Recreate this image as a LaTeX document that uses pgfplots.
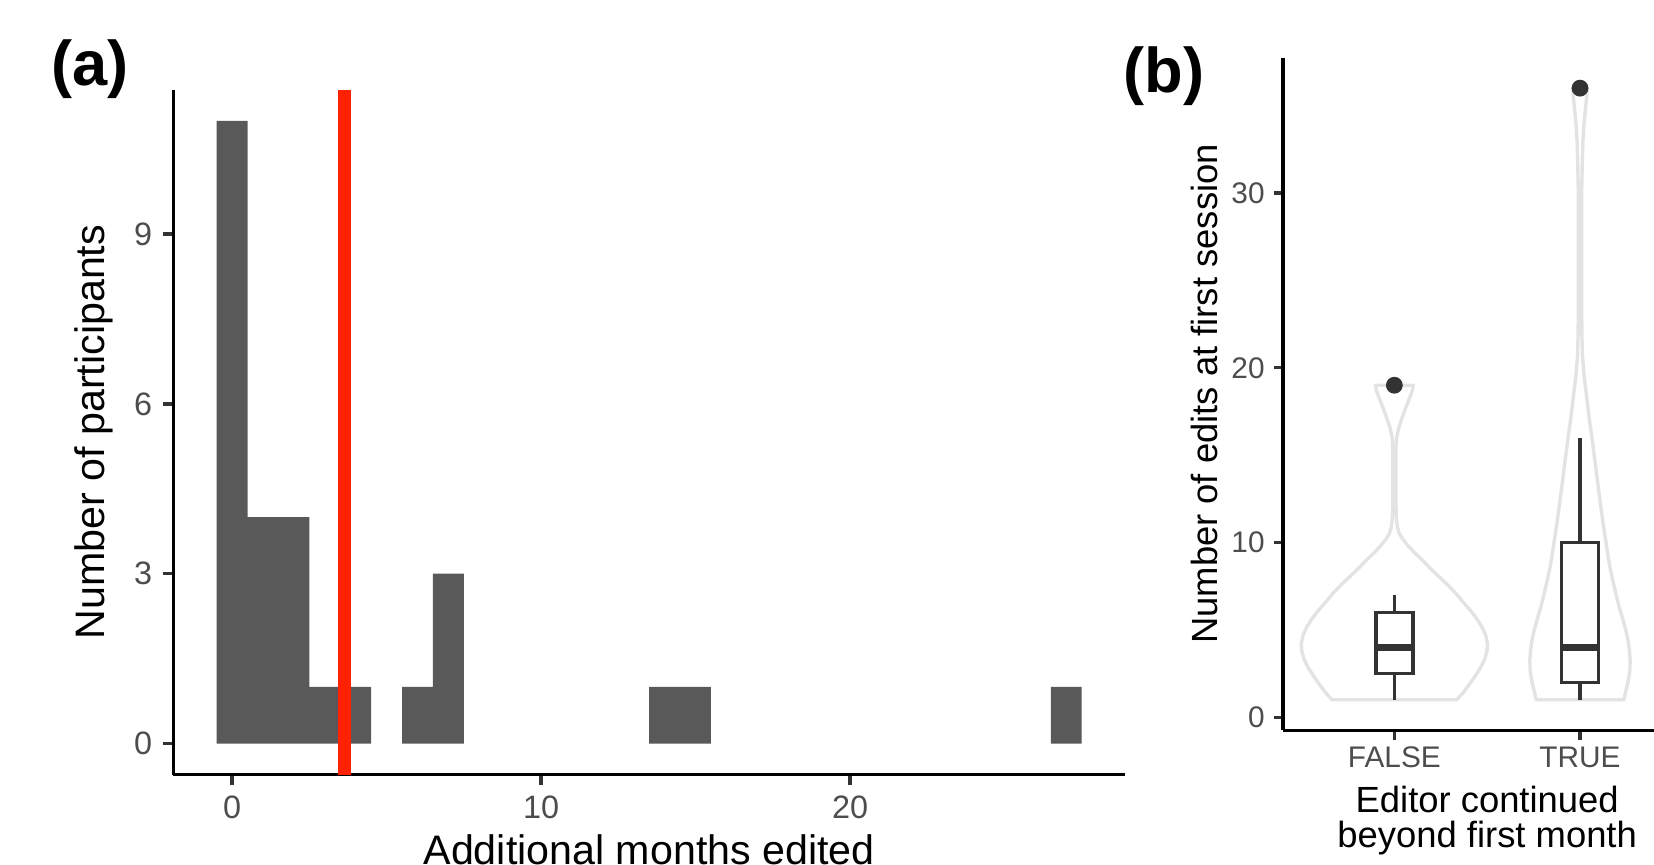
\documentclass[border=0pt]{standalone}
\usepackage{pgfplots}
\pgfplotsset{compat=1.18}
\usepackage{fontspec}
\setmainfont{Liberation Sans}
\definecolor{barc}{HTML}{595959}
\definecolor{redl}{HTML}{FF2200}
\definecolor{violc}{HTML}{E3E3E3}
\definecolor{boxc}{HTML}{333333}
\definecolor{labc}{HTML}{4D4D4D}
\newcommand\tickfa{\fontsize{8.1}{9.5}\selectfont}
\newcommand\tickfb{\fontsize{7.45}{8.7}\selectfont}
\newcommand\labfa{\fontsize{10.3}{12}\selectfont}
\newcommand\labfb{\fontsize{9.1}{8.7}\selectfont}
\pgfplotsset{
  common/.style={
    scale only axis,
    axis x line*=bottom, axis y line*=left,
    axis line style={line width=0.85pt, black},
    tick align=outside,
    major tick length=2.6pt,
    tick style={line width=0.85pt, color=boxc},
    /pgf/number format/assume math mode=true,
  }
}
\begin{document}
\begin{tikzpicture}
\useasboundingbox (0,0) rectangle (413.5pt,216.25pt);
\clip (0,0) rectangle (413.5pt,216.25pt);

% ---------- panel (a) ----------
\begin{axis}[common,
  at={(43.35pt,22.575pt)}, anchor=south west,
  width=237.9pt, height=171.25pt,
  xmin=-1.9, xmax=28.9, ymin=-0.55, ymax=11.55,
  xtick={0,10,20}, ytick={0,3,6,9},
  xticklabel style={font=\tickfa, text=labc, inner sep=0pt, anchor=north, yshift=-2.4pt},
  yticklabel style={font=\tickfa, text=labc, inner sep=0pt, anchor=east, xshift=-2.5pt},
  xlabel={Additional months edited},
  ylabel={Number of participants},
  xlabel style={font=\labfa, at={(axis description cs:0.5,-0.087)}, anchor=north, inner sep=0pt},
  ylabel style={font=\labfa, at={(axis description cs:-0.0729,0.5)}, anchor=base, inner sep=0pt},
]
\addplot[fill=barc, draw=none, const plot] coordinates {(-0.5,11) (0.5,4) (2.5,1) (4.5,1)} \closedcycle;
\addplot[fill=barc, draw=none, const plot] coordinates {(5.5,1) (6.5,3) (7.5,3)} \closedcycle;
\addplot[fill=barc, draw=none, const plot] coordinates {(13.5,1) (15.5,1)} \closedcycle;
\addplot[fill=barc, draw=none, const plot] coordinates {(26.5,1) (27.5,1)} \closedcycle;
\addplot[draw=redl, line width=3.2pt] coordinates {(3.64,-0.55) (3.64,11.55)};
\end{axis}

% ---------- panel (b) ----------
\begin{axis}[common,
  at={(320.75pt,33.65pt)}, anchor=south west,
  width=102.1pt, height=168.2pt,
  xmin=0.4, xmax=2.6, ymin=-0.75, ymax=37.75,
  xtick={1,2}, xticklabels={FALSE,TRUE}, ytick={0,10,20,30},
  major tick length=2.3pt,
  xticklabel style={font=\tickfb, text=labc, inner sep=0pt, anchor=north, yshift=-1.7pt},
  yticklabel style={font=\tickfb, text=labc, inner sep=0pt, anchor=east, xshift=-2.1pt},
  xlabel={Editor continued\\beyond first month},
  xlabel style={font=\labfb, align=center, at={(axis description cs:0.5,-0.0823)}, anchor=north, inner sep=0pt},
  ylabel={Number of edits at first session},
  ylabel style={font=\labfb, at={(axis description cs:-0.161,0.5)}, anchor=base, inner sep=0pt},
]
% violin FALSE
\addplot[draw=violc, line width=0.85pt, line join=round] coordinates {
 (0.664,1.00) (0.630,1.40) (0.595,1.90) (0.568,2.30) (0.538,2.80) (0.514,3.30)
 (0.501,3.80) (0.498,4.20) (0.508,4.70) (0.530,5.20) (0.560,5.70) (0.590,6.10)
 (0.630,6.60) (0.670,7.10) (0.715,7.60) (0.760,8.05) (0.805,8.50) (0.850,9.00)
 (0.890,9.40) (0.925,9.80) (0.955,10.20) (0.973,10.50) (0.984,10.90) (0.990,11.50)
 (0.992,12.50) (0.992,14.50) (0.991,15.50) (0.988,16.00) (0.978,16.50) (0.963,17.00)
 (0.946,17.50) (0.932,17.90) (0.917,18.30) (0.903,18.70) (0.898,19.00)
 (1.102,19.00) (1.097,18.70) (1.083,18.30) (1.068,17.90) (1.054,17.50) (1.037,17.00)
 (1.022,16.50) (1.012,16.00) (1.009,15.50) (1.008,14.50) (1.008,12.50) (1.010,11.50)
 (1.016,10.90) (1.027,10.50) (1.045,10.20) (1.075,9.80) (1.110,9.40) (1.150,9.00)
 (1.195,8.50) (1.240,8.05) (1.285,7.60) (1.330,7.10) (1.370,6.60) (1.410,6.10)
 (1.440,5.70) (1.470,5.20) (1.492,4.70) (1.502,4.20) (1.499,3.80) (1.486,3.30)
 (1.462,2.80) (1.432,2.30) (1.405,1.90) (1.370,1.40) (1.336,1.00)} -- cycle;
% violin TRUE
\addplot[draw=violc, line width=0.85pt, line join=round] coordinates {
 (1.764,1.00) (1.755,1.40) (1.748,1.73) (1.738,2.20) (1.731,2.69) (1.730,3.30)
 (1.734,3.90) (1.743,4.50) (1.756,5.10) (1.772,5.70) (1.789,6.31) (1.803,6.90)
 (1.816,7.51) (1.829,8.10) (1.841,8.71) (1.859,9.92) (1.876,11.12) (1.891,12.30)
 (1.906,13.53) (1.920,14.70) (1.935,15.94) (1.951,17.14) (1.964,18.34) (1.978,19.55)
 (1.987,20.75) (1.990,22.00) (1.991,24.00) (1.991,30.00) (1.988,31.60) (1.984,33.00)
 (1.978,34.00) (1.969,35.00) (1.963,35.60) (1.961,36.00)
 (2.039,36.00) (2.037,35.60) (2.031,35.00) (2.022,34.00) (2.016,33.00) (2.012,31.60)
 (2.009,30.00) (2.009,24.00) (2.010,22.00) (2.013,20.75) (2.022,19.55) (2.036,18.34)
 (2.049,17.14) (2.065,15.94) (2.080,14.70) (2.094,13.53) (2.109,12.30) (2.124,11.12)
 (2.141,9.92) (2.159,8.71) (2.171,8.10) (2.184,7.51) (2.197,6.90) (2.211,6.31)
 (2.228,5.70) (2.244,5.10) (2.257,4.50) (2.266,3.90) (2.270,3.30) (2.269,2.69)
 (2.262,2.20) (2.252,1.73) (2.245,1.40) (2.236,1.00)} -- cycle;
% boxplot FALSE
\addplot[draw=boxc, line width=0.85pt] coordinates {(1,1) (1,2.5)};
\addplot[draw=boxc, line width=0.85pt] coordinates {(1,6) (1,7)};
\addplot[draw=boxc, fill=white, line width=0.85pt] coordinates {(0.9,2.5) (1.1,2.5) (1.1,6) (0.9,6)} -- cycle;
\addplot[draw=boxc, line width=1.6pt] coordinates {(0.9,4) (1.1,4)};
% boxplot TRUE
\addplot[draw=boxc, line width=0.85pt] coordinates {(2,1) (2,2)};
\addplot[draw=boxc, line width=0.85pt] coordinates {(2,10) (2,16)};
\addplot[draw=boxc, fill=white, line width=0.85pt] coordinates {(1.9,2) (2.1,2) (2.1,10) (1.9,10)} -- cycle;
\addplot[draw=boxc, line width=1.6pt] coordinates {(1.9,4) (2.1,4)};
% outliers
\addplot[only marks, mark=*, mark size=1.9pt, color=boxc] coordinates {(1,19) (2,36)};
\end{axis}

\node[font=\bfseries\fontsize{15.8}{18}\selectfont, anchor=base, inner sep=0pt] at (22.5pt,194.8pt) {(a)};
\node[font=\bfseries\fontsize{15.8}{18}\selectfont, anchor=base, inner sep=0pt] at (291pt,193pt) {(b)};
\end{tikzpicture}
\end{document}
